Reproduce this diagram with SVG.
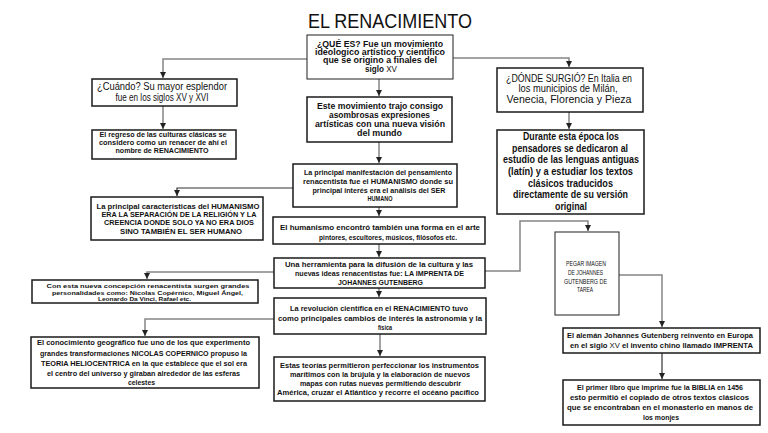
<svg xmlns="http://www.w3.org/2000/svg" width="768" height="433" viewBox="0 0 768 433">
<style>
text{font-family:"Liberation Sans",Arial,sans-serif;fill:#111;text-anchor:middle}
.b{font-weight:bold}
.n{font-weight:normal}
.box{fill:#fff;stroke:#1a1a1a;stroke-width:1.5}
.thin{stroke-width:1.1;stroke:#333}
.c{fill:none;stroke:#858585;stroke-width:1.5}
.d{stroke:#333;stroke-width:1.2}
</style>
<defs>
<marker id="ah" markerUnits="userSpaceOnUse" markerWidth="7" markerHeight="7" refX="6" refY="3" orient="auto">
<path d="M0,0 L6,3 L0,6 z" fill="#222"/>
</marker>
</defs>
<rect width="768" height="433" fill="#fff"/>
<text x="390" y="28" font-size="21" textLength="164" lengthAdjust="spacingAndGlyphs">EL RENACIMIENTO</text>

<g id="connectors">
<polyline class="c" points="307,59 163,59 163,78" marker-end="url(#ah)"/>
<polyline class="c" points="453,58 569,58 569,67" marker-end="url(#ah)"/>
<polyline class="c" points="379,79 379,96" marker-end="url(#ah)"/>
<polyline class="c" points="163,106 163,129" marker-end="url(#ah)"/>
<polyline class="c" points="569,112 569,129" marker-end="url(#ah)"/>
<polyline class="c" points="379,142 379,163" marker-end="url(#ah)"/>
<polyline class="c d" points="293,188 177,188 177,196" marker-end="url(#ah)"/>
<polyline class="c" points="379,207 379,216" marker-end="url(#ah)"/>
<polyline class="c" points="379,244 379,257" marker-end="url(#ah)"/>
<polyline class="c" points="274,272 147,272 147,279" marker-end="url(#ah)"/>
<polyline class="c" points="485,271 520,271 520,221 588,221 588,231" marker-end="url(#ah)"/>
<polyline class="c" points="379,288 379,297" marker-end="url(#ah)"/>
<polyline class="c" points="274,319 145,319 145,336" marker-end="url(#ah)"/>
<polyline class="c" points="380,334 380,356" marker-end="url(#ah)"/>
<polyline class="c" points="619,275 662,275 662,327" marker-end="url(#ah)"/>
<polyline class="c d" points="662,353 662,379" marker-end="url(#ah)"/>
</g>

<g id="que-es">
<rect class="box thin" x="307" y="35" width="146" height="44"/>
<text class="b" font-size="8.5" x="380" y="46.5" textLength="126" lengthAdjust="spacingAndGlyphs">¿QUÉ ES? Fue un movimiento</text>
<text class="b" font-size="8.5" x="380" y="54.8" textLength="130" lengthAdjust="spacingAndGlyphs">ideologico artístico y científico</text>
<text class="b" font-size="8.5" x="380" y="63.2" textLength="114" lengthAdjust="spacingAndGlyphs">que se origino a finales del</text>
<text class="b" font-size="8.5" x="381" y="71.5" textLength="32" lengthAdjust="spacingAndGlyphs">siglo <tspan class="n">XV</tspan></text>
</g>

<g id="cuando">
<rect class="box" x="92" y="79" width="145" height="27"/>
<text font-size="10.5" x="162" y="89.5" textLength="130" lengthAdjust="spacingAndGlyphs">¿Cuándo? Su mayor esplendor</text>
<text font-size="10.5" x="162" y="100.5" textLength="93" lengthAdjust="spacingAndGlyphs">fue en los siglos XV y XVI</text>
</g>

<g id="regreso">
<rect class="box" x="92" y="130" width="144" height="29"/>
<text class="b" font-size="7.5" x="163" y="136.5" textLength="127" lengthAdjust="spacingAndGlyphs">El regreso de las culturas clásicas se</text>
<text class="b" font-size="7.5" x="163" y="144.5" textLength="128" lengthAdjust="spacingAndGlyphs">considero como un renacer de ahí el</text>
<text class="b" font-size="7.5" x="162" y="152.5" textLength="93" lengthAdjust="spacingAndGlyphs">nombre de RENACIMIENTO</text>
</g>

<g id="donde">
<rect class="box" x="497" y="68" width="146" height="44"/>
<text font-size="10" x="569" y="81.5" textLength="126" lengthAdjust="spacingAndGlyphs">¿DÓNDE SURGIÓ? En Italia en</text>
<text font-size="10" x="568" y="92" textLength="99" lengthAdjust="spacingAndGlyphs">los municipios de Milán,</text>
<text font-size="10" x="569" y="102.5" textLength="125" lengthAdjust="spacingAndGlyphs">Venecia, Florencia y Pieza</text>
</g>

<g id="durante">
<rect class="box" x="497" y="130" width="147" height="84"/>
<text class="b" font-size="10" x="571" y="140" textLength="96" lengthAdjust="spacingAndGlyphs">Durante esta época los</text>
<text class="b" font-size="10" x="570" y="151.7" textLength="116" lengthAdjust="spacingAndGlyphs">pensadores se dedicaron al</text>
<text class="b" font-size="10" x="571" y="163.4" textLength="136" lengthAdjust="spacingAndGlyphs">estudio de las lenguas antiguas</text>
<text class="b" font-size="10" x="570.5" y="175" textLength="125" lengthAdjust="spacingAndGlyphs">(latín) y a estudiar los textos</text>
<text class="b" font-size="10" x="570.5" y="186.7" textLength="85" lengthAdjust="spacingAndGlyphs">clásicos traducidos</text>
<text class="b" font-size="10" x="570.5" y="198.4" textLength="115" lengthAdjust="spacingAndGlyphs">directamente de su versión</text>
<text class="b" font-size="10" x="571" y="210" textLength="32" lengthAdjust="spacingAndGlyphs">original</text>
</g>

<g id="este-movimiento">
<rect class="box" x="307" y="97" width="145" height="45"/>
<text class="b" font-size="9" x="380" y="108.5" textLength="126" lengthAdjust="spacingAndGlyphs">Este movimiento trajo consigo</text>
<text class="b" font-size="9" x="379.5" y="117.5" textLength="101" lengthAdjust="spacingAndGlyphs">asombrosas expresiones</text>
<text class="b" font-size="9" x="380" y="126.5" textLength="130" lengthAdjust="spacingAndGlyphs">artísticas con una nueva visión</text>
<text class="b" font-size="9" x="379.5" y="135.5" textLength="45" lengthAdjust="spacingAndGlyphs">del mundo</text>
</g>

<g id="manifestacion">
<rect class="box" x="293" y="164" width="164" height="43"/>
<text class="b" font-size="7.5" x="378" y="174.8" textLength="148" lengthAdjust="spacingAndGlyphs">La principal manifestación del pensamiento</text>
<text class="b" font-size="7.5" x="378" y="183.8" textLength="150" lengthAdjust="spacingAndGlyphs">renacentista fue el HUMANISMO donde su</text>
<text class="b" font-size="7.5" x="379" y="192.8" textLength="133" lengthAdjust="spacingAndGlyphs">principal interés era el análisis del SER</text>
<text class="b" font-size="7.5" x="380" y="200.8" textLength="25" lengthAdjust="spacingAndGlyphs">HUMANO</text>
</g>

<g id="caracteristicas">
<rect class="box" x="91" y="197" width="172" height="43"/>
<text class="b" font-size="7.5" x="178" y="208.8" textLength="163" lengthAdjust="spacingAndGlyphs">La principal características del HUMANISMO</text>
<text class="b" font-size="7.5" x="179" y="216.8" textLength="155" lengthAdjust="spacingAndGlyphs">ERA LA SEPARACIÓN DE LA RELIGIÓN Y LA</text>
<text class="b" font-size="7.5" x="179" y="224.8" textLength="150" lengthAdjust="spacingAndGlyphs">CREENCIA DONDE SOLO YA NO ERA DIOS</text>
<text class="b" font-size="7.5" x="181" y="233.8" textLength="122" lengthAdjust="spacingAndGlyphs">SINO TAMBIÉN EL SER HUMANO</text>
</g>

<g id="humanismo-arte">
<rect class="box" x="273" y="217" width="212" height="27"/>
<text class="b" font-size="8" x="380" y="230" textLength="200" lengthAdjust="spacingAndGlyphs">El humanismo encontró también una forma en el arte</text>
<text class="b" font-size="8" x="388" y="240" textLength="138" lengthAdjust="spacingAndGlyphs">pintores, escultores, músicos, filósofos etc.</text>
</g>

<g id="imprenta">
<rect class="box" x="274" y="258" width="211" height="30"/>
<text class="b" font-size="7.5" x="379" y="266.8" textLength="188" lengthAdjust="spacingAndGlyphs">Una herramienta para la difusión de la cultura y las</text>
<text class="b" font-size="7.5" x="379.5" y="275.8" textLength="169" lengthAdjust="spacingAndGlyphs">nuevas ideas renacentistas fue: LA IMPRENTA DE</text>
<text class="b" font-size="7.5" x="380.5" y="284.8" textLength="85" lengthAdjust="spacingAndGlyphs">JOHANNES GUTENBERG</text>
</g>

<g id="personalidades">
<rect class="box" x="32" y="280" width="226" height="23"/>
<text class="b" font-size="6" x="148" y="288.3" textLength="203" lengthAdjust="spacingAndGlyphs">Con esta nueva concepción renacentista surgen grandes</text>
<text class="b" font-size="6" x="147.5" y="294.5" textLength="191" lengthAdjust="spacingAndGlyphs">personalidades como: Nicolas Copérnico, Miguel Ángel,</text>
<text class="b" font-size="6" x="144.5" y="300.5" textLength="93" lengthAdjust="spacingAndGlyphs">Leonardo Da Vinci, Rafael etc.</text>
</g>

<g id="revolucion">
<rect class="box" x="274" y="298" width="212" height="36"/>
<text class="b" font-size="7.5" x="379" y="310.8" textLength="178" lengthAdjust="spacingAndGlyphs">La revolución científica en el RENACIMIENTO tuvo</text>
<text class="b" font-size="7.5" x="380" y="320.5" textLength="204" lengthAdjust="spacingAndGlyphs">como principales cambios de interés la astronomía y la</text>
<text class="b" font-size="7.5" x="385" y="329.8" textLength="14" lengthAdjust="spacingAndGlyphs">física</text>
</g>

<g id="conocimiento">
<rect class="box" x="31" y="337" width="228" height="51"/>
<text class="b" font-size="8" x="143.5" y="345.3" textLength="213" lengthAdjust="spacingAndGlyphs">El conocimiento geográfico fue uno de los que experimento</text>
<text class="b" font-size="8" x="143.5" y="355.5" textLength="207" lengthAdjust="spacingAndGlyphs">grandes transformaciones NICOLAS COPERNICO  propuso la</text>
<text class="b" font-size="8" x="144" y="365.5" textLength="206" lengthAdjust="spacingAndGlyphs">TEORIA HELIOCENTRICA en la que establece que el sol era</text>
<text class="b" font-size="8" x="143.5" y="375.5" textLength="193" lengthAdjust="spacingAndGlyphs">el centro del universo y giraban alrededor de las esferas</text>
<text class="b" font-size="8" x="141.5" y="385" textLength="27" lengthAdjust="spacingAndGlyphs">celestes</text>
</g>

<g id="teorias">
<rect class="box" x="274" y="357" width="211" height="44"/>
<text class="b" font-size="8" x="379.5" y="368" textLength="199" lengthAdjust="spacingAndGlyphs">Estas teorías permitieron perfeccionar los instrumentos</text>
<text class="b" font-size="8" x="380" y="377" textLength="180" lengthAdjust="spacingAndGlyphs">marítimos con la brújula y la elaboración de nuevos</text>
<text class="b" font-size="8" x="380.5" y="386" textLength="161" lengthAdjust="spacingAndGlyphs">mapas con rutas nuevas permitiendo descubrir</text>
<text class="b" font-size="8" x="378" y="395" textLength="202" lengthAdjust="spacingAndGlyphs">América, cruzar el Atlántico y recorre el océano pacífico</text>
</g>

<g id="pegar-imagen">
<rect class="box thin" x="555" y="232" width="64" height="83"/>
<text font-size="6.5" x="586" y="265.5" textLength="40" lengthAdjust="spacingAndGlyphs">PEGAR IMAGEN</text>
<text font-size="6.5" x="585.5" y="275" textLength="35" lengthAdjust="spacingAndGlyphs">DE JOHANNES</text>
<text font-size="6.5" x="585.5" y="283.5" textLength="43" lengthAdjust="spacingAndGlyphs">GUTENBERG DE</text>
<text font-size="6.5" x="585" y="291.5" textLength="16" lengthAdjust="spacingAndGlyphs">TAREA</text>
</g>

<g id="aleman">
<rect class="box" x="563" y="328" width="197" height="25"/>
<text class="b" font-size="8" x="660" y="338" textLength="186" lengthAdjust="spacingAndGlyphs">El alemán Johannes Gutenberg reinvento en Europa</text>
<text class="b" font-size="8" x="661.5" y="348" textLength="183" lengthAdjust="spacingAndGlyphs">en el siglo <tspan class="n">XV</tspan> el invento chino llamado IMPRENTA</text>
</g>

<g id="biblia">
<rect class="box" x="563" y="380" width="197" height="45"/>
<text class="b" font-size="8" x="660" y="390" textLength="166" lengthAdjust="spacingAndGlyphs">El primer libro que imprime fue la BIBLIA en 1456</text>
<text class="b" font-size="8" x="659.5" y="400" textLength="179" lengthAdjust="spacingAndGlyphs">esto permitió el copiado de otros textos clásicos</text>
<text class="b" font-size="8" x="660" y="410" textLength="186" lengthAdjust="spacingAndGlyphs">que se encontraban en el monasterio en manos de</text>
<text class="b" font-size="8" x="661" y="420" textLength="36" lengthAdjust="spacingAndGlyphs">los monjes</text>
</g>
</svg>
